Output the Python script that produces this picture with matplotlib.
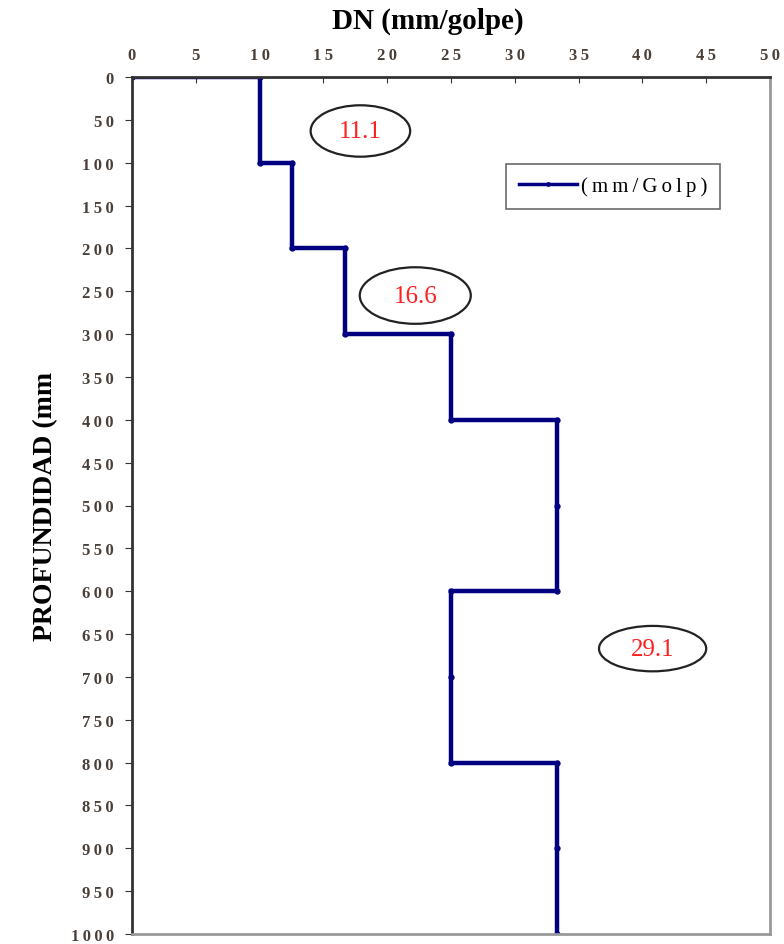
import matplotlib
matplotlib.use("Agg")
import matplotlib.pyplot as plt
from matplotlib.patches import Ellipse
from matplotlib.ticker import FuncFormatter

# Data
depth_edges = [0, 100, 200, 300, 400, 500, 600, 700, 800, 900, 1000]
dn_values = [10, 12.5, 16.7, 25, 33.3, 33.3, 25, 25, 33.3, 33.3]
x_ticks = [0, 5, 10, 15, 20, 25, 30, 35, 40, 45, 50]
y_ticks = list(range(0, 1001, 50))
labels = ["11.1", "16.6", "29.1"]
label_x = [17.9, 22.2, 40.8]
label_y = [63, 255, 667]
ell_w = [7.8, 8.7, 8.4]
ell_h = [60, 66, 53]

# Build step polyline from arrays
xs = [0]
ys = [depth_edges[0]]
prev = None
for i, v in enumerate(dn_values):
    top = depth_edges[i]
    bot = depth_edges[i + 1]
    if prev is None or v != prev:
        xs.append(v); ys.append(top)
    xs.append(v); ys.append(bot)
    prev = v

plt.rcParams['font.family'] = ['Liberation Serif', 'DejaVu Serif']

SP = '\u2009'
def spaced(s):
    return SP.join(s)

fig = plt.figure(figsize=(7.84, 9.45), dpi=100)
ax = fig.add_axes([132/784, 1-935/945, (770-132)/784, (935-78)/945])

ax.plot(xs, ys, color='#000080', lw=3.2, marker='o', ms=3.5,
        label=spaced('(mm/Golp)'), solid_joinstyle='miter')

ax.set_xlim(0, 50)
ax.set_ylim(1000, 0)
ax.set_xticks(x_ticks)
ax.set_yticks(y_ticks)
ax.xaxis.set_major_formatter(FuncFormatter(lambda v, p: spaced('%d' % v)))
ax.yaxis.set_major_formatter(FuncFormatter(lambda v, p: spaced('%d' % v)))
ax.xaxis.tick_top()
tick_col = '#4a3f38'
ax.tick_params(axis='x', direction='in', length=4, labelsize=12, colors='#333333',
               labelcolor=tick_col, pad=10)
ax.tick_params(axis='y', direction='out', length=5, labelsize=12, colors='#333333',
               labelcolor=tick_col, pad=8)
for lab in ax.get_xticklabels() + ax.get_yticklabels():
    lab.set_fontweight('bold')

for s in ['left', 'top']:
    ax.spines[s].set_color('#333333')
    ax.spines[s].set_linewidth(2)
for s in ['right', 'bottom']:
    ax.spines[s].set_color('#999999')
    ax.spines[s].set_linewidth(2)

fig.text(428/784, 1-21/945, 'DN (mm/golpe)', fontsize=21, fontweight='bold',
         ha='center', va='center')
fig.text(46/784, 1-506/945, 'PROFUNDIDAD (mm', rotation=90, fontsize=20,
         fontweight='bold', ha='center', va='center')

for t, x, y, w, h in zip(labels, label_x, label_y, ell_w, ell_h):
    ax.add_patch(Ellipse((x, y), w, h, fc='white', ec='#222222', lw=1.6, zorder=3))
    ax.text(x, y, t, color='#ff2020', fontsize=18, ha='center', va='center', zorder=4)

leg = ax.legend(loc='upper left', bbox_to_anchor=((506-132)/638, 1-(165-78)/857),
                fontsize=15, frameon=True, fancybox=False, handlelength=2.8,
                borderpad=0.6, handletextpad=0.2, markerscale=0.7, borderaxespad=0)
leg.get_frame().set_edgecolor('#444444')
leg.get_frame().set_linewidth(1.2)
for line in leg.get_lines():
    line.set_linewidth(2.5)

fig.savefig('out.png', dpi=100)
